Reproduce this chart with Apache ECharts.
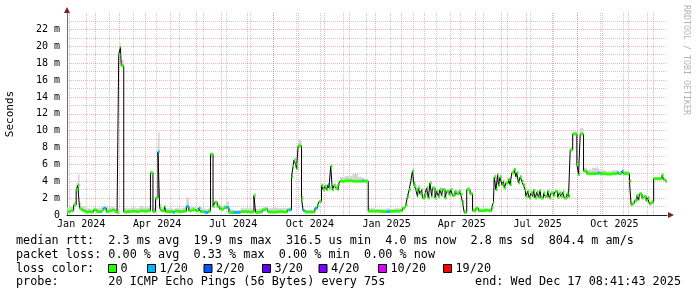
<!DOCTYPE html>
<html><head><meta charset="utf-8">
<script src="https://cdn.jsdelivr.net/npm/echarts@6/dist/echarts.min.js"></script>
<style>html,body{margin:0;padding:0;background:#fff}#c{width:697px;height:297px}</style>
</head><body><div id="c"></div>
<script>
// Day 0 of the x axis = 2023-12-29 (UTC); the axis spans 719 days, ending 2025-12-17.
const START_DATE = Date.UTC(2023, 11, 29);
const SPAN_DAYS = 719;

// Samples: day offset, median RTT (ms), top of smoke (ms)
const days = [0,4,8,11,13,15,17,19,22,25,29,32,35,38,42,44,47,50,54,57,60,62,64,65,68,72,77,82,87,91,96,100,103,106,109,111,113,117,118,122,127,129,134,139,143,146,149,154,158,160,165,169,172,175,177,180,183,188,191,194,199,204,208,213,218,224,226,230,234,237,240,241,247,253,259,264,266,269,271,272,274,275,277,281,283,285,291,297,300,302,305,307,309,311,313,314,316,318,320,322,324,325,327,333,342,349,354,356,361,369,376,383,387,393,399,402,405,406,408,410,412,414,416,418,420,421,423,425,426,429,431,433,435,437,438,441,443,445,447,449,450,453,455,458,460,462,465,467,470,472,474,476,479,483,486,490,493,499,505,509,511,512,514,516,517,519,521,523,524,526,529,531,533,536,538,539,541,543,545,547,549,550,552,554,556,558,559,561,563,565,567,568,571,573,576,578,580,583,585,588,590,592,594,596,599,601,603,606,611,613,615,619,623,629,635,636,638,646,653,659,661,665,667,674,676,678,680,683,685,686,689,691,694,696,698,700,703,713,715,717,719];
const median = [0.4,0.5,1.2,3.0,3.5,0.8,0.6,0.5,0.35,0.4,0.35,0.6,0.4,0.4,0.6,0.8,0.4,0.5,0.6,0.4,0.3,19.0,19.9,17.7,0.35,0.4,0.45,0.4,0.5,0.45,0.5,5.0,0.4,2.0,7.5,0.8,0.5,1.0,0.4,0.4,0.3,0.45,0.4,0.45,1.0,0.5,0.6,0.5,0.8,0.4,0.3,0.45,7.2,1.0,1.5,1.0,0.7,0.9,0.9,0.3,0.3,0.3,0.4,0.4,0.35,2.3,0.3,0.35,0.6,0.7,0.6,0.35,0.35,0.4,0.35,0.6,0.6,4.5,5.8,6.5,6.0,5.5,8.2,2.0,0.5,0.35,0.35,0.8,1.1,1.6,3.5,3.0,3.4,3.0,3.6,3.2,5.8,3.0,3.5,3.2,3.0,3.6,4.0,4.05,4.0,4.0,4.05,4.0,0.45,0.45,0.4,0.4,0.45,0.45,0.5,0.8,1.0,1.2,2.2,3.0,4.0,5.2,3.5,3.0,2.2,3.2,2.5,3.0,2.0,2.5,3.2,2.0,3.8,2.2,3.2,2.0,2.8,2.2,3.0,2.3,3.0,2.0,2.8,2.4,3.0,2.3,2.8,2.5,2.8,2.4,1.5,0.3,3.0,2.5,0.5,0.8,0.5,0.55,0.5,0.9,1.5,4.5,3.0,4.8,3.5,4.5,3.6,4.0,3.2,3.8,4.2,3.6,5.0,5.4,4.5,5.0,3.8,4.5,4.0,3.5,3.0,2.2,2.8,2.0,2.6,2.2,2.9,2.0,2.7,2.1,2.9,2.0,2.6,2.2,2.8,2.0,2.6,2.3,2.8,2.1,2.6,2.2,2.7,2.0,2.5,2.2,7.7,9.6,6.0,4.8,9.6,5.2,4.9,4.9,4.9,5.0,4.9,4.85,4.9,5.0,4.9,5.2,4.9,4.0,1.2,1.4,1.7,2.3,1.8,2.5,2.0,2.2,1.7,2.0,1.3,1.5,4.3,4.7,4.2,4.0,4.0];
const smokeMax = [0.9,1.0,1.6,3.8,4.8,1.5,1.1,1.0,0.8,0.8,0.7,0.9,0.8,0.9,1.0,1.1,0.9,0.9,1.0,0.8,0.7,19.5,20.4,18.4,0.8,0.8,0.9,0.8,1.0,0.9,0.9,5.3,0.8,2.2,9.8,1.3,0.9,1.3,0.8,0.8,0.7,0.8,0.8,0.9,2.1,0.9,1.0,0.9,1.0,0.8,0.7,0.8,7.4,1.3,1.7,1.3,1.1,1.2,1.6,0.7,0.6,0.6,0.8,0.8,0.8,2.6,0.7,0.8,0.9,1.0,0.9,0.8,0.9,0.8,0.8,0.8,0.9,4.8,6.0,6.8,6.4,6.0,9.0,2.3,0.7,0.6,0.6,1.0,1.3,1.8,3.8,3.4,3.7,3.3,3.8,3.5,6.0,3.4,3.8,3.6,3.3,4.0,4.5,4.6,4.9,4.5,4.4,4.3,0.8,0.7,0.7,0.8,0.7,0.8,0.8,1.0,1.2,1.5,2.5,3.3,4.5,5.6,4.0,3.4,2.6,3.6,2.8,3.3,2.4,2.9,3.5,2.4,4.0,2.5,3.4,2.4,3.1,2.5,3.3,2.6,3.2,2.3,3.1,2.7,3.2,2.6,3.0,2.8,3.0,2.7,1.8,0.6,3.3,2.8,0.8,1.0,0.8,0.8,0.8,1.1,1.7,4.8,3.3,5.0,3.8,4.7,3.9,4.3,3.5,4.0,4.5,3.9,5.3,5.6,4.8,5.2,4.1,4.8,4.2,3.8,3.3,2.5,3.0,2.3,2.9,2.5,3.1,2.3,3.0,2.4,3.1,2.3,2.9,2.5,3.1,2.3,2.9,2.6,3.0,2.4,2.9,2.5,3.0,2.3,2.8,2.5,8.0,9.9,6.4,5.2,10.3,5.6,5.4,5.6,5.8,5.5,5.3,5.2,5.3,5.3,5.2,5.4,5.2,4.3,1.5,1.7,2.0,2.5,2.1,2.7,2.3,2.4,2.0,2.3,1.6,1.8,4.5,4.9,4.4,4.2,4.2];
// Day offsets of the samples that lost 1 of 20 pings (all others lost none)
const lossDays = [44,109,127,143,158,165,191,199,204,240,266,283,297,313,354,383,636,659,665];
const loss = days.map(d => lossDays.indexOf(d) >= 0 ? 1 : 0);

// Axis text
const yTicks = [0,2,4,6,8,10,12,14,16,18,20,22];
const xTickDates = ['2024-01-15','2024-04-15','2024-07-15','2024-10-15','2025-01-15','2025-04-15','2025-07-15','2025-10-15'];
const xTickLabels = ['Jan 2024','Apr 2024','Jul 2024','Oct 2024','Jan 2025','Apr 2025','Jul 2025','Oct 2025'];

const lossColors = ['#26ff00','#00b8ff','#0059ff','#5e00ff','#7e00ff','#dd00ff','#ff0000'];
const lossNames = ['0','1/20','2/20','3/20','4/20','10/20','19/20'];

const statsLines = [
  'median rtt:  2.3 ms avg  19.9 ms max  316.5 us min  4.0 ms now  2.8 ms sd  804.4 m am/s',
  'packet loss: 0.00 % avg  0.33 % max  0.00 % min  0.00 % now',
  'loss color:',
  'probe:       20 ICMP Echo Pings (56 Bytes) every 75s'
];
const endText = 'end: Wed Dec 17 08:41:43 2025';

const DAY = 86400000;
const dayOf = s => (Date.parse(s + 'T00:00:00Z') - START_DATE) / DAY;
const monthStarts = [];
for (let y = 2024; y <= 2025; y++) for (let m = 0; m < 12; m++) {
  const d = (Date.UTC(y, m, 1) - START_DATE) / DAY;
  if (d > 0 && d < SPAN_DAYS) monthStarts.push(d);
}
const minorDays = [];
for (let d = dayOf('2024-01-21'); d < SPAN_DAYS; d += 28) minorDays.push(d);
const labelDays = xTickDates.map(dayOf);

const segs = [];
for (let i = 0; i < days.length - 1; i++) segs.push([days[i], days[i + 1], median[i], smokeMax[i], loss[i]]);

const SW = 0.17;
const MONO = '"DejaVu Sans Mono", monospace';
const FS = '11.8px ';
const chart = echarts.init(document.getElementById('c'), null, {renderer: 'canvas'});

const G = {left: 67, top: 13, right: 30, bottom: 82, containLabel: false, outerBoundsMode: 'none'};
const graphics = [];
statsLines.forEach((t, i) => graphics.push({type: 'text', x: 16, y: 241 + i * 13.8,
  style: {text: t, font: FS + MONO, fill: '#000', verticalAlign: 'middle'}}));
graphics.push({type: 'text', x: 681, y: 241 + 3 * 13.8,
  style: {text: endText, font: FS + MONO, fill: '#000', align: 'right', verticalAlign: 'middle'}});
const boxX = [108, 147, 203.5, 262, 318.5, 378, 443];
lossNames.forEach((n, i) => {
  graphics.push({type: 'rect', shape: {x: boxX[i] + 0.5, y: 264.5, width: 8, height: 8},
    style: {fill: lossColors[i], stroke: '#000', lineWidth: 1}});
  graphics.push({type: 'text', x: boxX[i] + 12.5, y: 241 + 2 * 13.8,
    style: {text: n, font: FS + MONO, fill: '#000', verticalAlign: 'middle'}});
});
graphics.push({type: 'text', x: 686, y: 5, rotation: -Math.PI / 2,
  style: {text: 'RRDTOOL / TOBI OETIKER', font: '8.3px ' + MONO, fill: '#b4b4b4', verticalAlign: 'middle'}});
graphics.push({type: 'polygon', shape: {points: [[64, 13], [70, 13], [67, 7]]}, style: {fill: '#801f1f'}});
graphics.push({type: 'polygon', shape: {points: [[668, 212], [668, 218], [674, 215]]}, style: {fill: '#801f1f'}});

const minorStyle = {color: 'rgba(143,143,143,0.45)', width: 1, type: [1, 1]};
const majorStyle = {color: 'rgba(222,79,79,0.42)', width: 1, type: [1, 1]};

chart.setOption({
  animation: false,
  backgroundColor: '#fff',
  grid: G,
  xAxis: [
    {type: 'value', min: 0, max: SPAN_DAYS, position: 'bottom',
     axisLine: {show: false}, axisLabel: {show: false},
     axisTick: {show: false, customValues: minorDays},
     splitLine: {show: true, lineStyle: minorStyle}},
    {type: 'value', min: 0, max: SPAN_DAYS, position: 'bottom',
     axisLine: {show: true, lineStyle: {color: '#1f1f1f', width: 1}},
     axisTick: {show: false, customValues: monthStarts},
     axisLabel: {show: true, customValues: labelDays, margin: 4, color: '#000',
       fontFamily: MONO, fontSize: 10,
       formatter: v => { const k = labelDays.findIndex(d => Math.abs(d - v) < 0.01); return k >= 0 ? xTickLabels[k] : ''; }},
     splitLine: {show: true, lineStyle: majorStyle}}
  ],
  yAxis: {
    type: 'value', min: 0, max: 23.95, interval: 2,
    name: 'Seconds', nameLocation: 'middle', nameGap: 51,
    nameTextStyle: {fontFamily: MONO, fontSize: 11, color: '#000'},
    axisLine: {show: true, lineStyle: {color: '#6f6f6f'}},
    axisTick: {show: false, customValues: yTicks},
    axisLabel: {customValues: yTicks, margin: 7, color: '#000', fontFamily: MONO, fontSize: 10,
      formatter: v => v === 0 ? '0' : v + ' m'},
    splitLine: {show: true, lineStyle: majorStyle},
    minorTick: {show: false, splitNumber: 2},
    minorSplitLine: {show: true, lineStyle: minorStyle}
  },
  series: [
    {type: 'custom', name: 'smoke', xAxisIndex: 1, z: 2, data: segs, encode: {x: [0, 1], y: [2, 3]},
     renderItem: (p, api) => {
       const a = api.coord([api.value(0), api.value(3)]);
       const b = api.coord([api.value(1), api.value(2)]);
       return {type: 'rect', shape: {x: a[0], y: a[1], width: b[0] - a[0], height: b[1] - a[1]},
         style: {fill: '#d4d4d4'}};
     }},
    {type: 'line', name: 'median', xAxisIndex: 1, z: 3, step: 'end', showSymbol: false, symbol: 'none',
     data: days.map((d, i) => [d, median[i]]),
     lineStyle: {color: '#000', width: 1}},
    {type: 'custom', name: 'loss', xAxisIndex: 1, z: 4, data: segs, encode: {x: [0, 1], y: 2},
     renderItem: (p, api) => {
       const a = api.coord([api.value(0), api.value(2) + SW]);
       const b = api.coord([api.value(1), api.value(2) - SW]);
       return {type: 'rect', shape: {x: a[0], y: a[1], width: b[0] - a[0], height: b[1] - a[1]},
         style: {fill: lossColors[api.value(4)]}};
     }}
  ],
  graphic: graphics
});
</script></body></html>
